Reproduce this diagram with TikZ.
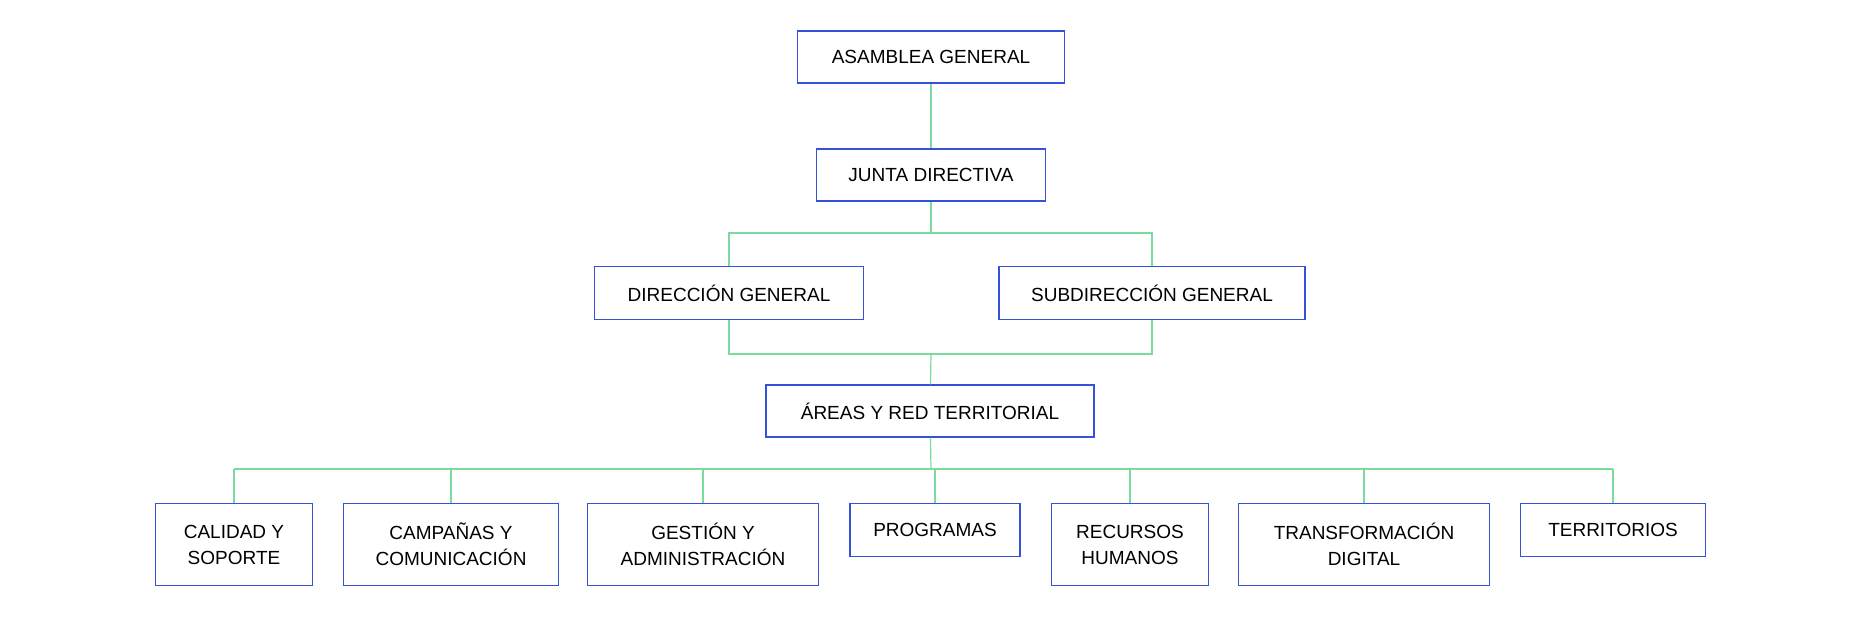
\documentclass[tikz,border=0pt]{standalone}
\usepackage{fontspec}
\setmainfont{Liberation Sans}
\definecolor{boxblue}{HTML}{3452D8}
\definecolor{linegreen}{HTML}{7ADB9C}
\begin{document}
\begin{tikzpicture}[x=1pt,y=-1pt,
    unit/.style={draw=boxblue,line width=1.3pt,fill=white,align=center,
      font=\fontsize{19}{26}\selectfont,inner sep=0pt},
    link/.style={draw=linegreen,line width=1.2pt}]
  \useasboundingbox (0,0) rectangle (1874,638);
  \node[unit,minimum width=267,minimum height=52] (asamblea) at (931,57) {ASAMBLEA GENERAL};
  \node[unit,minimum width=229,minimum height=52] (junta) at (931,175) {JUNTA DIRECTIVA};
  \node[unit,minimum width=269,minimum height=53] (direccion) at (729,293) {DIRECCIÓN GENERAL};
  \node[unit,minimum width=306,minimum height=53] (subdireccion) at (1152,293) {SUBDIRECCIÓN GENERAL};
  \node[unit,minimum width=328,minimum height=52] (areas) at (930,411) {ÁREAS Y RED TERRITORIAL};
  % areas
  \node[unit,minimum width=157,minimum height=82,anchor=north] (calidad) at (234,503) {CALIDAD Y\\SOPORTE};
  \node[unit,minimum width=215,minimum height=82,anchor=north] (campanas) at (451,503) {CAMPAÑAS Y\\COMUNICACIÓN};
  \node[unit,minimum width=231,minimum height=82,anchor=north] (gestion) at (703,503) {GESTIÓN Y\\ADMINISTRACIÓN};
  \node[unit,minimum width=170,minimum height=53,anchor=north] (programas) at (935,503) {PROGRAMAS};
  \node[unit,minimum width=157,minimum height=82,anchor=north] (recursos) at (1130,503) {RECURSOS\\HUMANOS};
  \node[unit,minimum width=251,minimum height=82,anchor=north] (transformacion) at (1364,503) {TRANSFORMACIÓN\\DIGITAL};
  \node[unit,minimum width=185,minimum height=53,anchor=north] (territorios) at (1613,503) {TERRITORIOS};
  % links
  \coordinate (bus a) at (931,233);
  \coordinate (bus b) at (931,354);
  \coordinate (bus c) at (931,469);
  \draw[link] (asamblea) -- (junta);
  \draw[link] (junta) -- (bus a);
  \draw[link] (direccion.north) |- (bus a) -| (subdireccion.north);
  \draw[link] (direccion.south) |- (bus b) -| (subdireccion.south);
  \draw[link] (bus b) -- (areas);
  \draw[link] (areas) -- (bus c);
  \foreach \n in {calidad,campanas,gestion,programas,recursos,transformacion,territorios}
    \draw[link] (\n.north) -- (\n.north |- bus c);
  \draw[link] (calidad.north |- bus c) -- (territorios.north |- bus c);
\end{tikzpicture}
\end{document}
